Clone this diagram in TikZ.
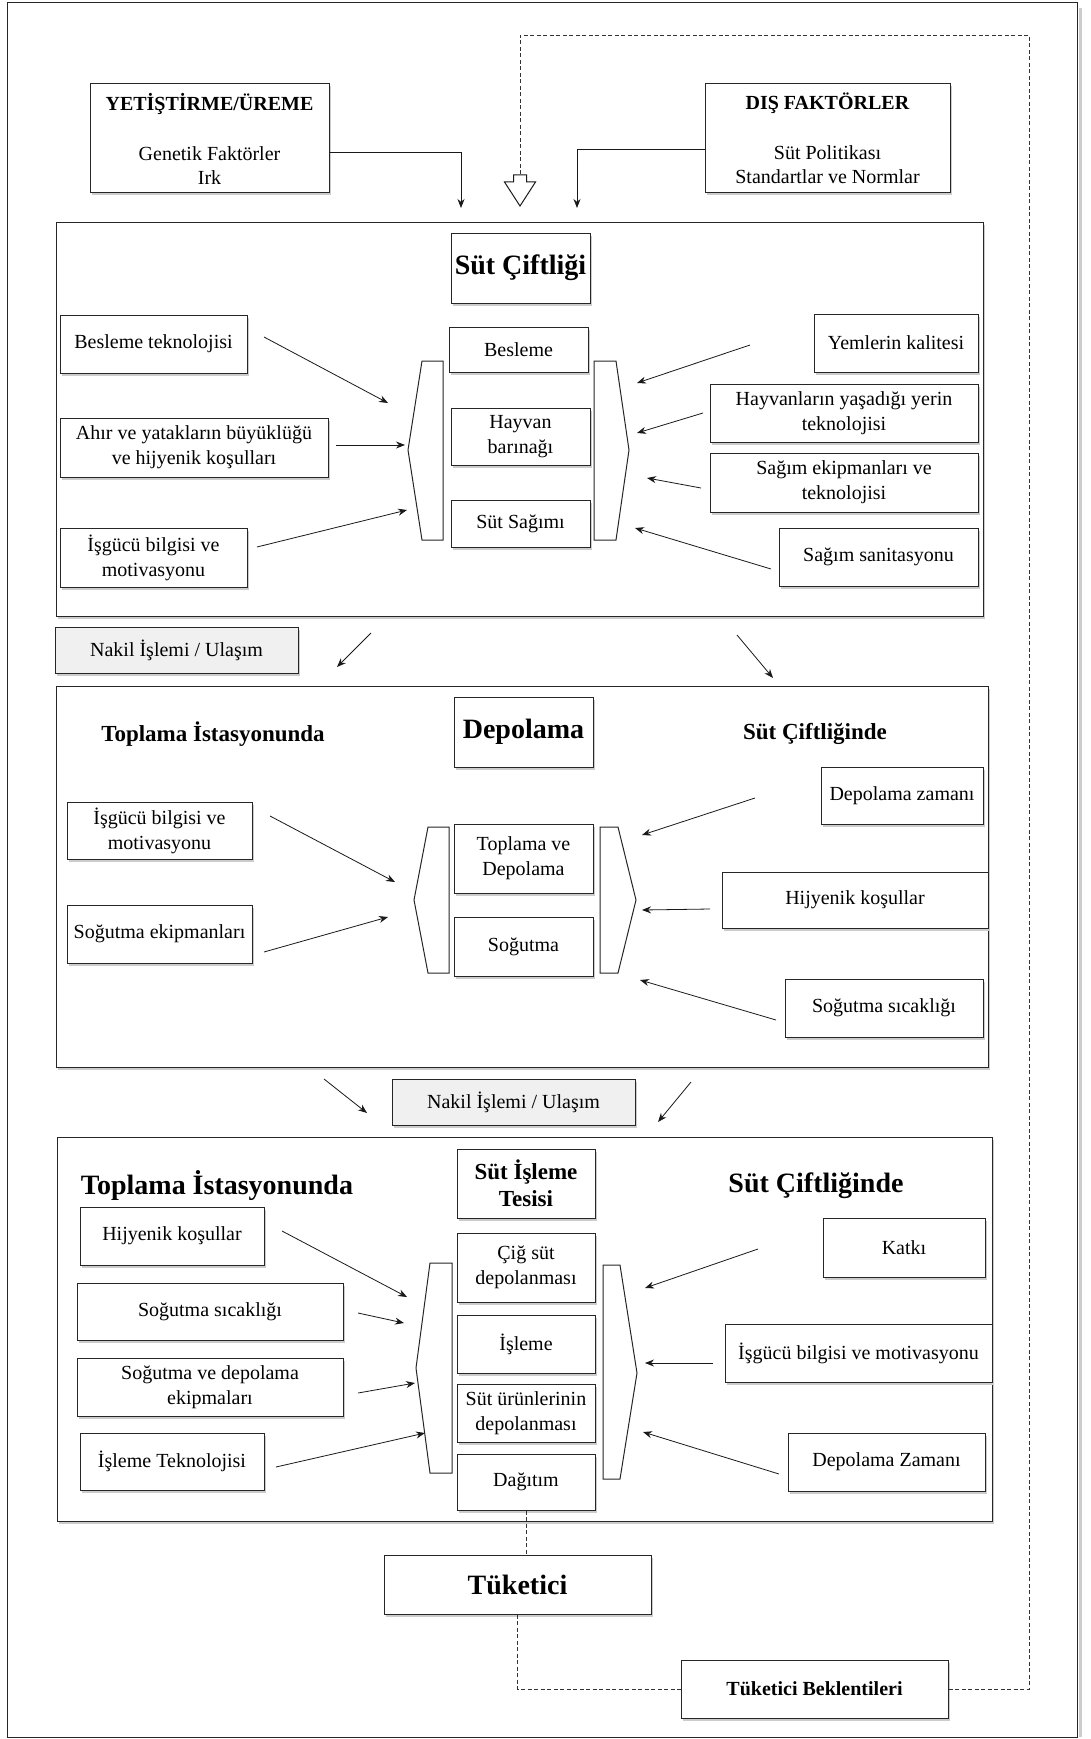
\documentclass[tikz,border=0pt]{standalone}
\usepackage{fontspec}
\setmainfont{Liberation Serif}
\usetikzlibrary{arrows.meta,shadows}
\begin{document}
\begin{tikzpicture}[x=1pt,y=-1pt,
  every node/.style={font=\fontsize{20}{25}\selectfont},
  box/.style={draw=black!85,line width=1pt,fill=white,align=center,inner sep=1pt,
     drop shadow={shadow xshift=2pt,shadow yshift=-2.5pt,fill=black!20,opacity=1}},
  nakil/.style={box,fill=black!6,minimum width=243pt,minimum height=46pt},
  ttl/.style={font=\bfseries\fontsize{28}{32}\selectfont},
  ttm/.style={font=\bfseries\fontsize{23}{27}\selectfont},
  arr/.style={-{Stealth[length=9pt,width=7pt]},line width=0.8pt,black!90},
  dsh/.style={dash pattern=on 4pt off 2.5pt,line width=0.8pt,black!80},
  brk/.style={draw=black!85,line width=1pt,fill=white}
]
\useasboundingbox (0,0) rectangle (1091,1739);
% page border
\draw[black!20,line width=3pt] (1080,8) -- (1080,1737);
\draw[black!85,line width=1pt] (7,3) rectangle (1077,1737);

% ---------- top ----------
\node[box,minimum width=239pt,minimum height=109pt,font=\fontsize{20}{24}\selectfont] (yet) at (209.5,138.5)
  {\textbf{YETİŞTİRME/ÜREME}\\[26pt]Genetik Faktörler\\Irk};
\node[box,minimum width=245pt,minimum height=109pt,font=\fontsize{20}{24}\selectfont] (dis) at (827.5,138.5)
  {\textbf{DIŞ FAKTÖRLER}\\[26pt]Süt Politikası\\Standartlar ve Normlar};
\coordinate (t1) at (461,208);
\coordinate (t2) at (577,208);
\draw[arr] ([yshift=-13.5pt]yet.east) -| (t1);
\draw[arr] ([yshift=-10.5pt]dis.west) -| (t2);
\coordinate (hol) at (520,175);

% ---------- section 1 ----------
\node[box,minimum width=927pt,minimum height=394pt] (sec1) at (519.5,419) {};
\node[box,ttl,minimum width=139pt,minimum height=70pt] (sc) at (520.5,268) {Süt Çiftliği};
\draw[brk] (422,361) -- (443,361) -- (443,540) -- (422,540) -- (408,450) -- cycle;
\draw[brk] (594,361) -- (616,361) -- (629,450) -- (616,540) -- (594,540) -- cycle;
\node[box,minimum width=139pt,minimum height=45pt] (bes) at (518.5,349.5) {Besleme};
\node[box,minimum width=139pt,minimum height=57pt] (hb) at (520.5,436.5) {Hayvan\\barınağı};
\node[box,minimum width=139pt,minimum height=47pt] (sag) at (520.5,523.5) {Süt Sağımı};
\node[box,minimum width=187pt,minimum height=58pt] (bt) at (153.5,344) {Besleme teknolojisi};
\node[box,minimum width=268pt,minimum height=59pt] (ahir) at (194,447.5) {Ahır ve yatakların büyüklüğü\\ve hijyenik koşulları};
\node[box,minimum width=187pt,minimum height=59pt] (isg1) at (153.5,557.5) {İşgücü bilgisi ve\\motivasyonu};
\node[box,minimum width=164pt,minimum height=58pt] (yem) at (896,343) {Yemlerin kalitesi};
\node[box,minimum width=268pt,minimum height=58pt] (hay) at (844,413) {Hayvanların yaşadığı yerin\\teknolojisi};
\node[box,minimum width=268pt,minimum height=59pt] (sge) at (844,482.5) {Sağım ekipmanları ve\\teknolojisi};
\node[box,minimum width=199pt,minimum height=58pt] (ssan) at (878.5,557) {Sağım sanitasyonu};

% ---------- transport 1 ----------
\node[nakil] (nk1) at (176.5,650) {Nakil İşlemi / Ulaşım};

% ---------- section 2 ----------
\node[box,minimum width=932pt,minimum height=381pt] (sec2) at (522,876.5) {};
\node[ttm] (tis2) at (213,734) {Toplama İstasyonunda};
\node[ttm] (sci2) at (815,734) {Süt Çiftliğinde};
\node[box,ttl,minimum width=139pt,minimum height=70pt] (dep) at (523.5,732) {Depolama};
\draw[brk] (428,827) -- (449,827) -- (449,973) -- (428,973) -- (414,900) -- cycle;
\draw[brk] (600,827) -- (618,827) -- (636,900) -- (618,973) -- (600,973) -- cycle;
\node[box,minimum width=139pt,minimum height=69pt] (tvd) at (523.5,858.5) {Toplama ve\\Depolama};
\node[box,minimum width=139pt,minimum height=59pt] (sog) at (523.5,946.5) {Soğutma};
\node[box,minimum width=185pt,minimum height=57pt] (isg2) at (159.5,830.5) {İşgücü bilgisi ve\\motivasyonu};
\node[box,minimum width=185pt,minimum height=58pt] (soge) at (159.5,934) {Soğutma ekipmanları};
\node[box,minimum width=162pt,minimum height=57pt] (dz) at (902,795.5) {Depolama zamanı};
\node[box,minimum width=266pt,minimum height=56pt] (hk) at (855,900) {Hijyenik koşullar};
\node[box,minimum width=198pt,minimum height=58pt] (ss) at (884,1008) {Soğutma sıcaklığı};

% ---------- transport 2 ----------
\node[nakil] (nk2) at (513.5,1102) {Nakil İşlemi / Ulaşım};

% ---------- section 3 ----------
\node[box,minimum width=935pt,minimum height=384pt] (sec3) at (524.5,1329) {};
\node[ttl] (tis3) at (217,1186) {Toplama İstasyonunda};
\node[ttl] (sci3) at (816,1186) {Süt Çiftliğinde};
\node[box,ttm,minimum width=138pt,minimum height=69pt] (sit) at (526,1183.5) {Süt İşleme\\Tesisi};
\draw[brk] (430,1263) -- (452,1263) -- (452,1473) -- (430,1473) -- (416,1368) -- cycle;
\draw[brk] (603,1265) -- (620,1265) -- (637,1373) -- (620,1479) -- (603,1479) -- cycle;
\node[box,minimum width=138pt,minimum height=69pt] (cig) at (526,1267.5) {Çiğ süt\\depolanması};
\node[box,minimum width=138pt,minimum height=58pt] (isl) at (526,1344) {İşleme};
\node[box,minimum width=138pt,minimum height=58pt] (sud) at (526,1413) {Süt ürünlerinin\\depolanması};
\node[box,minimum width=138pt,minimum height=56pt] (dag) at (526,1482) {Dağıtım};
\node[box,minimum width=184pt,minimum height=58pt] (hk3) at (172,1236) {Hijyenik koşullar};
\node[box,minimum width=266pt,minimum height=57pt] (ss3) at (210,1311.5) {Soğutma sıcaklığı};
\node[box,minimum width=266pt,minimum height=58pt] (sde) at (210,1387) {Soğutma ve depolama\\ekipmaları};
\node[box,minimum width=184pt,minimum height=57pt] (it) at (172,1461.5) {İşleme Teknolojisi};
\node[box,minimum width=162pt,minimum height=59pt] (katki) at (904,1247.5) {Katkı};
\node[box,minimum width=267pt,minimum height=58pt] (isg3) at (858.5,1353) {İşgücü bilgisi ve motivasyonu};
\node[box,minimum width=197pt,minimum height=58pt] (dz3) at (886.5,1462) {Depolama Zamanı};

% ---------- consumer ----------
\node[box,ttl,minimum width=267pt,minimum height=59pt] (tuk) at (517.5,1584.5) {Tüketici};
\node[box,minimum width=267pt,minimum height=58pt,font=\bfseries\fontsize{20}{24}\selectfont] (tb) at (814.5,1689) {Tüketici Beklentileri};

% ---------- dashed connectors ----------
\coordinate (fbR) at (1029,35);
\draw[dsh] (dag.south) -- (dag.south |- tuk.north);
\draw[dsh] (tuk.south) |- (tb.west);
\draw[dsh] (tb.east) -| (fbR) -| (hol);
% hollow arrow head of the feedback line
\draw[line width=1pt,draw=black!90,fill=white] (513.5,175) -- (526.5,175) -- (526.5,182) -- (535.5,182) -- (520,206) -- (504.5,182) -- (513.5,182) -- cycle;

% ---------- arrows ----------
\foreach \sx/\sy/\ex/\ey [count=\i] in {
  264/337/388/403, 336/445/405/445, 257/547/407/510,
  750/345/637/383, 703/413/637/433, 701/488/647/478, 771/569/635/528,
  371/633/337/667, 737/635/773/678,
  270/816/395/882, 264/952/388/917,
  755/798/642/835, 710/909/642/910, 776/1020/640/980,
  324/1079/367/1113, 691/1082/658/1122,
  282/1231/407/1297, 358/1313/404/1323, 358/1393/415/1383, 276/1467/425/1433,
  758/1249/645/1288, 713/1363/645/1363, 779/1474/643/1432}
{
  \coordinate (as\i) at (\sx,\sy);
  \coordinate (ae\i) at (\ex,\ey);
  \draw[arr] (as\i) -- (ae\i);
}
\end{tikzpicture}
\end{document}
